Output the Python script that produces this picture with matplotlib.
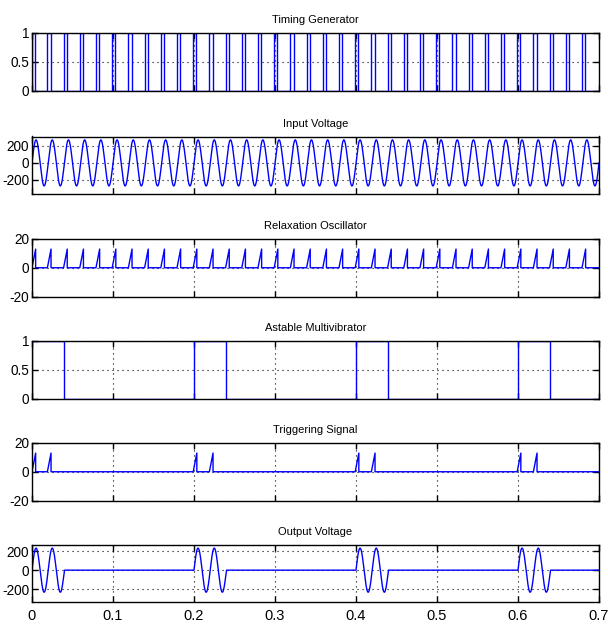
import numpy as np
import matplotlib
matplotlib.use('Agg')
import matplotlib.pyplot as plt
from matplotlib import font_manager

# narrow font if one is there, else Liberation Sans
names = {f.name for f in font_manager.fontManager.ttflist}
if 'Liberation Sans Narrow' in names:
    plt.rcParams['font.family'] = ['Liberation Sans Narrow', 'DejaVu Sans']
    xtick_fs, ytick_fs, title_fs = 12, 12, 9
else:
    plt.rcParams['font.family'] = ['Liberation Sans', 'DejaVu Sans']
    xtick_fs, ytick_fs, title_fs = 10.5, 9.8, 8

## values
titles = ['Timing Generator', 'Input Voltage', 'Relaxation Oscillator',
          'Astable Multivibrator', 'Triggering Signal', 'Output Voltage']

# start times of the 50 Hz pulses (timing generator / relaxation oscillator)
pulse_t = [0.000, 0.019, 0.039, 0.059, 0.079, 0.099, 0.119, 0.139, 0.159,
           0.179, 0.199, 0.219, 0.239, 0.259, 0.279, 0.299, 0.319, 0.339,
           0.359, 0.379, 0.399, 0.419, 0.439, 0.459, 0.479, 0.499, 0.519,
           0.539, 0.559, 0.579, 0.599, 0.619, 0.639, 0.659, 0.679]
pulse_width = 0.004
spike_rise = 0.0045
spike_peak = 13

# astable multivibrator "on" windows
astable_on = [(0.0, 0.04), (0.2, 0.24), (0.4, 0.44), (0.6, 0.64)]

# spikes passed through to the triggering signal
trig_t = [0.000, 0.019, 0.199, 0.219, 0.399, 0.419, 0.599, 0.619]

# mains voltage
freq = 50.0
amp_in = 270
amp_out = 232

t_end = 0.7
xticks = [0, 0.1, 0.2, 0.3, 0.4, 0.5, 0.6, 0.7]
xticklabels = ['0', '0.1', '0.2', '0.3', '0.4', '0.5', '0.6', '0.7']
yticks = [[0, 0.5, 1], [-200, 0, 200], [-20, 0, 20],
          [0, 0.5, 1], [-20, 0, 20], [-200, 0, 200]]
yticklabels = [['0', '0.5', '1'], ['-200', '0', '200'], ['-20', '0', '20'],
               ['0', '0.5', '1'], ['-20', '0', '20'], ['-200', '0', '200']]
ylims = [(0, 1), (-365, 310), (-20, 20), (0, 1), (-20, 20), (-335, 270)]


def pulse_trace(starts, width):
    tt, vv = [0.0], [0.0]
    for s in starts:
        tt += [s, s, s + width, s + width]
        vv += [0, 1, 1, 0]
    tt.append(t_end)
    vv.append(0)
    return tt, vv


def spike_trace(starts):
    tt, vv = [0.0], [0.0]
    for s in starts:
        tt += [s, s + spike_rise, s + spike_rise]
        vv += [0, spike_peak, 0]
    tt.append(t_end)
    vv.append(0)
    return tt, vv


def window_trace(windows):
    tt, vv = [0.0], [0.0]
    for a, b in windows:
        tt += [a, a, b, b]
        vv += [0, 1, 1, 0]
    tt.append(t_end)
    vv.append(0)
    return tt, vv


t = np.linspace(0, t_end, 7001)
v_in = amp_in * np.sin(2 * np.pi * freq * t)
gate = np.zeros_like(t, dtype=bool)
for a, b in astable_on:
    gate |= (t >= a) & (t <= b)
v_out = np.where(gate, amp_out * np.sin(2 * np.pi * freq * t), 0)

traces = [pulse_trace(pulse_t, pulse_width),
          (t, v_in),
          spike_trace(pulse_t),
          window_trace(astable_on),
          spike_trace(trig_t),
          (t, v_out)]

#%% layout (pixels)
W, H = 608, 626
fig = plt.figure(figsize=(W / 100, H / 100), dpi=100)
left_px, right_px = 32, 599
tops_px = [33, 136.5, 239, 341, 443, 544.5]
height_px = 57.5

for i in range(6):
    ax = fig.add_axes([left_px / W, (H - tops_px[i] - height_px) / H,
                       (right_px - left_px) / W, height_px / H])
    tt, vv = traces[i]
    ax.plot(tt, vv, color='#0000ff', lw=1.0)
    ax.set_xlim(0, t_end)
    ax.set_ylim(*ylims[i])
    ax.set_xticks(xticks)
    if i == 5:
        ax.set_xticklabels(xticklabels, fontsize=xtick_fs)
    else:
        ax.set_xticklabels([])
    ax.set_yticks(yticks[i])
    ax.set_yticklabels(yticklabels[i], fontsize=ytick_fs)
    ax.tick_params(direction='in', length=4, width=1, top=True, right=True)
    ax.tick_params(axis='y', pad=2)
    ax.tick_params(axis='x', pad=5)
    ax.grid(True, color='black', linestyle=(0, (1, 3.5)), lw=0.8)
    for sp in ax.spines.values():
        sp.set_linewidth(1.0)
    ax.set_title(titles[i], fontsize=title_fs, pad=7)

fig.savefig('out.png', dpi=100)
